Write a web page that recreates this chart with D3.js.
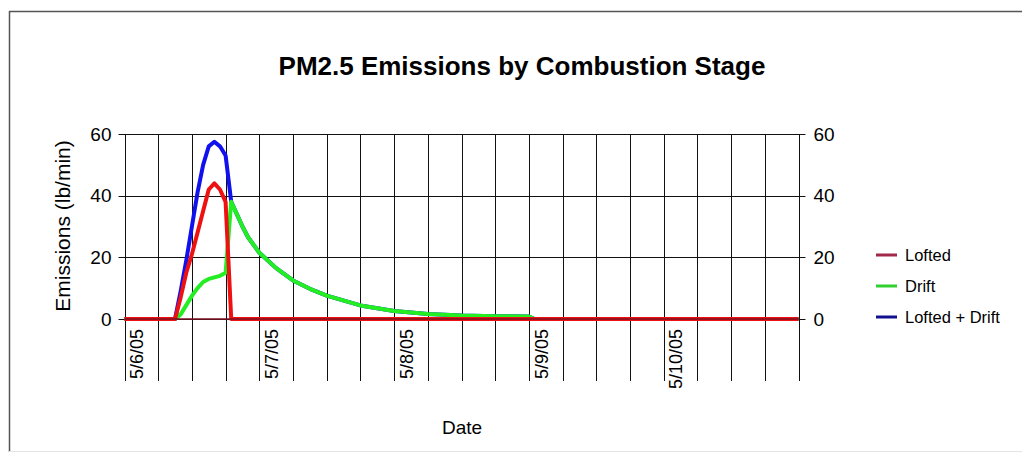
<!DOCTYPE html>
<html lang="en">
<head>
    <meta charset="UTF-8">
    <script src="https://d3js.org/d3.v7.min.js"></script>
    <title>PM2.5 Emissions by Combustion Stage</title>
    <style>
        body { margin: 0; background: #fff; }
        text { font-family: "Liberation Sans", Arial, sans-serif; fill: #000; }
    </style>
</head>
<body>
<div id="chart"></div>
<script>
    // hours after 5/6/05 00:00
    const hours   = [0, 9, 10, 11, 12, 13, 14, 15, 16, 17, 18, 19, 20, 21, 22, 24, 27, 30, 33, 36, 42, 48, 54, 60, 66, 72, 73, 120];
    const lofted  = [0, 0, 7, 15, 21, 28, 35, 42, 44, 42, 38, 0, 0, 0, 0, 0, 0, 0, 0, 0, 0, 0, 0, 0, 0, 0, 0, 0];
    const drift   = [0, 0, 1.5, 4.5, 7.5, 10, 12, 13, 13.5, 14, 15, 38, 34, 30, 26.5, 21.5, 16.5, 12.5, 9.8, 7.6, 4.4, 2.6, 1.6, 1.1, 0.9, 0.8, 0, 0];
    const total   = [0, 0, 9, 19, 30, 41, 50, 56, 57.5, 56, 53, 38, 34, 30, 26.5, 21.5, 16.5, 12.5, 9.8, 7.6, 4.4, 2.6, 1.6, 1.1, 0.9, 0.8, 0, 0];

    const dayHours  = [0, 24, 48, 72, 96];
    const dayLabels = ["5/6/05", "5/7/05", "5/8/05", "5/9/05", "5/10/05"];
    const yTicks    = [0, 20, 40, 60];

    const seriesNames  = ["Lofted", "Drift", "Lofted + Drift"];
    const lineColors   = ["#ee1111", "#22ee22", "#1111ee"];
    const legendColors = ["#a02848", "#30d030", "#101090"];

    const width = 1022, height = 462;
    const svg = d3.select("#chart").append("svg")
        .attr("width", width)
        .attr("height", height);

    // chart frame
    svg.append("line").attr("x1", 9).attr("x2", width).attr("y1", 11.5).attr("y2", 11.5)
        .attr("stroke", "#555").attr("stroke-width", 1.5);
    svg.append("line").attr("x1", 9.5).attr("x2", 9.5).attr("y1", 11).attr("y2", 452)
        .attr("stroke", "#555").attr("stroke-width", 1.5);
    svg.append("line").attr("x1", 9).attr("x2", width).attr("y1", 451.5).attr("y2", 451.5)
        .attr("stroke", "#e4e4e4");

    const x = d3.scaleLinear().domain([0, 120]).range([124.5, 798.5]);
    const y = d3.scaleLinear().domain([0, 60]).range([319, 134]);

    // vertical grid, every 6 hours, running down through the label area
    svg.append("g")
        .selectAll("line")
        .data(d3.range(0, 121, 6))
        .join("line")
        .attr("x1", d => Math.round(x(d)) + 0.5)
        .attr("x2", d => Math.round(x(d)) + 0.5)
        .attr("y1", y(60))
        .attr("y2", 381)
        .attr("stroke", "#111");

    // horizontal grid
    svg.append("g")
        .selectAll("line")
        .data(yTicks)
        .join("line")
        .attr("x1", x(0) - 6)
        .attr("x2", x(120) + 7)
        .attr("y1", d => Math.round(y(d)) + 0.5)
        .attr("y2", d => Math.round(y(d)) + 0.5)
        .attr("stroke", "#111");

    // axes labels
    const leftAxis = svg.append("g")
        .attr("transform", `translate(${x(0)},0)`)
        .call(d3.axisLeft(y).tickValues(yTicks).tickSize(0).tickPadding(13));
    const rightAxis = svg.append("g")
        .attr("transform", `translate(${x(120)},0)`)
        .call(d3.axisRight(y).tickValues(yTicks).tickSize(0).tickPadding(15));
    [leftAxis, rightAxis].forEach(a => {
        a.select(".domain").remove();
        a.selectAll("text").attr("font-size", 19).attr("font-family", "Liberation Sans, Arial, sans-serif");
    });

    const xAxis = svg.append("g")
        .attr("transform", `translate(0,${y(0)})`)
        .call(d3.axisBottom(x).tickValues(dayHours).tickFormat((d, i) => dayLabels[i]).tickSize(0));
    xAxis.select(".domain").remove();
    xAxis.selectAll("text")
        .attr("font-size", 18)
        .attr("font-family", "Liberation Sans, Arial, sans-serif")
        .attr("text-anchor", "end")
        .attr("transform", "rotate(-90)")
        .attr("x", -10)
        .attr("y", 12)
        .attr("dy", "0.35em");

    // series: blue underneath, red on top
    const line = vals => d3.line().x((d, i) => x(hours[i])).y(d => y(d))(vals);
    [[total, 2], [drift, 1], [lofted, 0]].forEach(([vals, k]) => {
        svg.append("path")
            .attr("d", line(vals))
            .attr("fill", "none")
            .attr("stroke", lineColors[k])
            .attr("stroke-width", 4)
            .attr("stroke-linejoin", "round");
    });
    // darker zero line over the series
    svg.append("line")
        .attr("x1", x(0)).attr("x2", x(120))
        .attr("y1", y(0)).attr("y2", y(0))
        .attr("stroke", "#7a1020").attr("stroke-width", 1.5);

    // titles
    svg.append("text")
        .attr("x", 522).attr("y", 75)
        .attr("text-anchor", "middle")
        .attr("font-size", 26).attr("font-weight", "bold")
        .text("PM2.5 Emissions by Combustion Stage");

    svg.append("text")
        .attr("transform", "translate(70,226) rotate(-90)")
        .attr("text-anchor", "middle")
        .attr("font-size", 21)
        .text("Emissions (lb/min)");

    svg.append("text")
        .attr("x", 462).attr("y", 434)
        .attr("text-anchor", "middle")
        .attr("font-size", 19)
        .text("Date");

    // legend
    const legend = svg.append("g")
        .selectAll("g")
        .data(seriesNames)
        .join("g")
        .attr("transform", (d, i) => `translate(876,${255 + i * 31})`);
    legend.append("line")
        .attr("x1", 0).attr("x2", 21)
        .attr("stroke", (d, i) => legendColors[i])
        .attr("stroke-width", 3);
    legend.append("text")
        .attr("x", 29).attr("dy", "0.35em")
        .attr("font-size", 16.5)
        .text(d => d);
</script>
</body>
</html>
